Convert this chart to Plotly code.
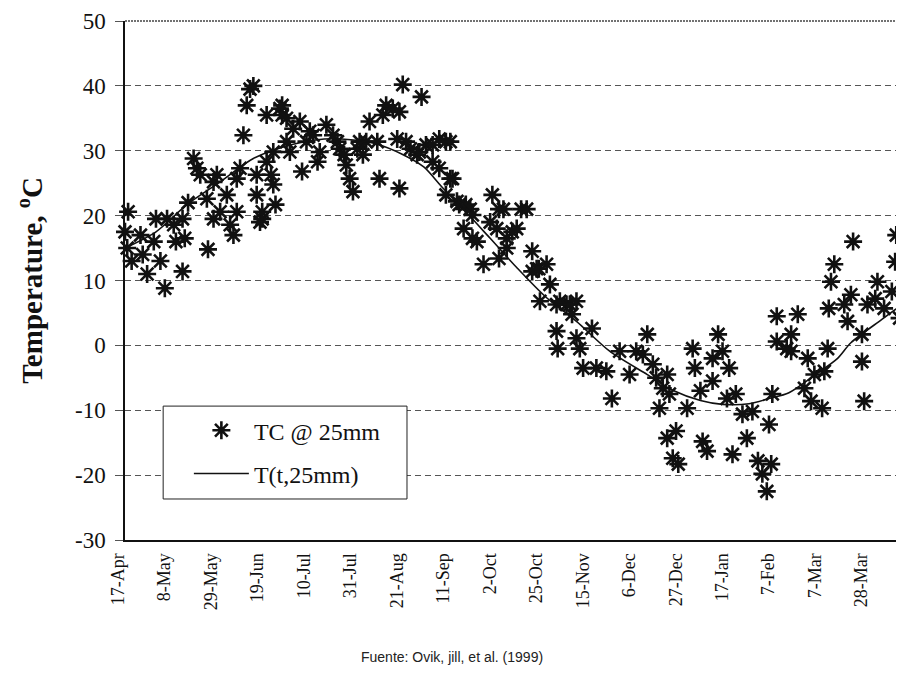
import plotly.graph_objects as go

# ---- data (days after 17-Apr, temperature in deg C) ----
obs_day = [0, 1, 1.4, 3, 7, 8, 10, 13, 14, 16, 18, 19, 22, 23, 26, 26, 27, 28.5, 31, 32.5,
           34, 37, 37.5, 40, 40, 41.5, 43, 46, 47.5, 49, 50.5, 50.5, 52, 53.5, 55, 56.5, 58,
           59.5, 59.5, 61, 62, 62, 64, 64, 66, 67, 67, 68, 70, 71, 71, 73, 73, 74.5, 76, 79,
           80, 82, 83.5, 85, 87, 88, 91, 94, 96, 97, 99, 100, 101.5, 103, 105, 106, 107.5,
           109, 110.5, 114, 115, 116.5, 118, 121, 123, 124, 124, 125.5, 127, 129, 132, 133,
           134, 136, 139, 139, 142, 142, 145, 145, 147, 147, 148, 150, 151, 153, 154, 156,
           157, 157, 159, 162, 165, 166, 168, 169, 169, 171, 172.5, 172.5, 175, 177, 179,
           181.5, 184, 184, 186, 187, 187.5, 190.5, 192, 195, 195, 195.5, 196.5, 199.5, 201,
           202, 204, 204, 205.5, 207, 211, 213, 217.5, 220, 223.5, 228, 231, 234, 236, 238.5,
           240, 241.5, 243, 245, 245, 246, 247.5, 249, 250, 254, 256.5, 257.5, 260, 261, 263,
           265.5, 265.5, 268, 270, 272, 273, 274.5, 276, 279, 281, 283.5, 286, 288, 290, 291,
           292, 292.5, 294.5, 294.5, 299, 301, 301, 304, 307, 308.5, 310, 311.5, 315, 316,
           317.5, 318, 319, 320.5, 325, 326.5, 328, 329, 333, 333, 334, 335.5, 339, 340, 343,
           346.5, 348, 348.5, 350]
obs_temp = [17.5, 15, 20.6, 13, 17, 14, 11, 16, 19.5, 13, 8.8, 19.5, 18.6, 16, 11.4, 19.5,
            16.5, 22, 28.8, 27.3, 26.3, 22.6, 14.8, 25.2, 19.5, 26.3, 20.6, 23.2, 18.6, 17,
            20.6, 25.7, 27.3, 32.4, 37, 39.5, 40, 26.3, 23.2, 19, 19.5, 20.6, 35.5, 28.3, 26.3,
            24.8, 29.8, 21.7, 36.5, 35.5, 37, 35, 31.4, 29.8, 33.4, 34.5, 26.8, 31.4, 33, 32.4,
            28.3, 29.8, 34, 32.4, 31.4, 30.3, 29.4, 27.8, 25.7, 23.7, 30.3, 31.4, 29.4, 31.4,
            34.5, 31.4, 25.7, 35.5, 37, 36.5, 31.8, 24.2, 36, 40.2, 31.4, 30.3, 29.4, 29.8,
            38.3, 30.9, 28.3, 30.9, 27.3, 31.8, 31.4, 23.2, 25.7, 31.4, 25.7, 22.2, 21.7, 18,
            21.7, 21, 20.1, 16.5, 16, 12.5, 19, 23.2, 18, 21, 13.4, 21, 15, 16.5, 17.5, 18,
            21, 21, 14.5, 11.4, 11.8, 11.8, 6.8, 12.5, 9.4, 6.3, 2.2, -0.5, 6.8, 6.3, 6.3, 4.8,
            6.8, 1.1, -0.5, -3.5, 2.6, -3.5, -4, -8.2, -0.9, -4.5, -0.9, -1.4, 1.7, -2.9, -5,
            -9.7, -6.6, -4.5, -14.3, -7.5, -17.4, -13.2, -18.3, -9.7, -0.5, -3.5, -7, -14.8,
            -16.3, -5.5, -2, 1.7, -0.9, -8.2, -3.5, -16.8, -7.5, -10.6, -14.3, -10.2, -17.8,
            -19.8, -22.5, -12.2, -18.3, -7.5, 4.5, 0.6, -0.5, 1.7, -0.9, 4.8, -6.6, -2, -8.6,
            -4.5, -9.7, -4, -0.5, 5.7, 9.8, 12.5, 6.3, 3.7, 7.8, 16, 1.7, -2.5, -8.6, 6.3, 7.2,
            9.8, 5.7, 8.3, 12.9, 17, 4.2]

model_day = [0, 14, 28, 43, 58, 76, 90, 102, 114, 125, 135, 143, 154, 165, 177, 190, 204,
             219, 236, 248, 260, 270, 282, 291, 300, 312, 322, 328, 342, 352]
model_temp = [15, 17.5, 21.7, 25.2, 28.8, 31, 31.8, 31.7, 31, 29.5, 27.5, 24.5, 20.6, 16.5,
              12, 7.5, 3.7, -0.9, -4.5, -7, -8.5, -9.1, -9, -8.2, -7.3, -4.5, -2, 0.4, 4, 6.5]

tick_days = [0, 21, 42, 63, 84, 105, 126, 147, 168, 189, 210, 231, 252, 273, 294, 315, 336]
tick_text = ["17-Apr", "8-May", "29-May", "19-Jun", "10-Jul", "31-Jul", "21-Aug", "11-Sep",
             "2-Oct", "25-Oct", "15-Nov", "6-Dec", "27-Dec", "17-Jan", "7-Feb", "7-Mar", "28-Mar"]
y_ticks = [-30, -20, -10, 0, 10, 20, 30, 40, 50]
y_tick_text = ["-30", "-20", "-10", "0", "10", "20", "30", "40", "50"]

SERIF = "Liberation Serif, Times New Roman, serif"

fig = go.Figure()
fig.add_trace(go.Scatter(
    x=obs_day, y=obs_temp, mode="markers", name="TC @ 25mm",
    marker=dict(symbol="asterisk-open", size=15, color="#111",
                line=dict(color="#111", width=2.6)),
    cliponaxis=False, legendgroup="a"))
fig.add_trace(go.Scatter(
    x=model_day, y=model_temp, mode="lines", name="T(t,25mm)",
    line=dict(color="#111", width=1.6, shape="spline", smoothing=0.8),
    legendgroup="b"))

fig.update_layout(
    width=896, height=667,
    margin=dict(l=117, r=0, t=13, b=135),
    paper_bgcolor="white", plot_bgcolor="white",
    font=dict(family=SERIF, color="#111", size=18),
    showlegend=True,
    legend=dict(x=0.082, y=0.254, xanchor="left", yanchor="top",
                bgcolor="rgba(0,0,0,0)", borderwidth=0,
                font=dict(family=SERIF, size=24, color="#111"),
                itemwidth=55, tracegroupgap=9),
    xaxis=dict(range=[0, 352], tickmode="array", tickvals=tick_days, ticktext=tick_text,
               tickangle=-90, showgrid=False, zeroline=False,
               showline=True, linecolor="#111", linewidth=2,
               ticks="", tickfont=dict(family=SERIF, size=18, color="#111"),
               ticklabelshift=-7, ticklabelstandoff=4),
    yaxis=dict(range=[-30, 50], tickmode="array", tickvals=y_ticks, ticktext=y_tick_text,
               showgrid=True, gridcolor="#555", gridwidth=1, griddash="6px,4px",
               zeroline=False, showline=True, linecolor="#111", linewidth=1.5,
               ticks="outside", ticklen=8, tickcolor="#555",
               tickfont=dict(family=SERIF, size=23, color="#111"),
               ticklabelstandoff=5,
               title=dict(text="<b>Temperature, <sup>o</sup>C</b>",
                          font=dict(family=SERIF, size=29, color="#111"),
                          standoff=24)),
    shapes=[
        dict(type="line", xref="paper", yref="paper", x0=0, x1=1, y0=1, y1=1,
             line=dict(color="#444", width=1.5, dash="2px,1px")),
        dict(type="rect", xref="paper", yref="paper", x0=0.049, x1=0.362, y0=0.079, y1=0.258,
             line=dict(color="#222", width=1), fillcolor="white", layer="above"),
    ],
    annotations=[
        dict(text="Fuente: Ovik, jill, et al. (1999)", xref="paper", yref="paper",
             x=0.42, y=-0.225, xanchor="center", yanchor="middle", showarrow=False,
             font=dict(family="Liberation Sans Narrow, Liberation Sans, Arial, sans-serif",
                       size=14, color="#222")),
    ],
)

fig.write_html("out.html")
